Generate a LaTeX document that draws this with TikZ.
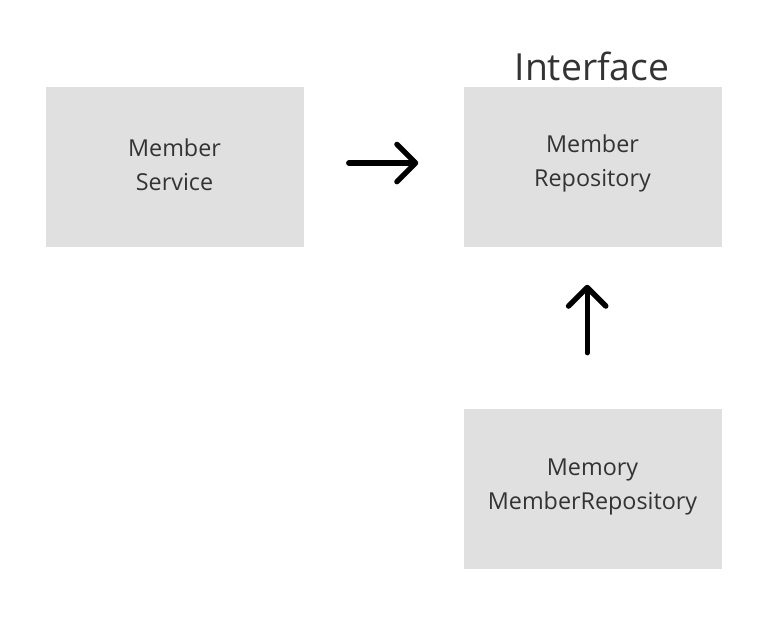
\documentclass[tikz,border=0pt]{standalone}
\usepackage{fontspec}
\setmainfont{Open Sans}
\usetikzlibrary{arrows.meta}
\definecolor{boxgray}{HTML}{E0E0E0}
\definecolor{txt}{HTML}{333333}
\begin{document}
\begin{tikzpicture}[x=0.75pt,y=-0.75pt,
  box/.style={fill=boxgray,draw=none,minimum width=193.5pt,minimum height=120pt,inner sep=0pt},
  boxtext/.style={text=txt,font=\fontsize{17.5}{25.5}\selectfont,align=center,inner sep=0pt},
  conn/.style={line width=4pt,line cap=round,-{Straight Barb[length=14pt,width=28pt,line cap=round,line join=round]}}]
\useasboundingbox (0,0) rectangle (784,625);
\node[box] (ms) at (174.5,166.5) {};
\node[box] (mr) at (592.5,166.5) {};
\node[box] (mmr) at (592.5,489) {};
\node[boxtext] (mst) at ([yshift=1.5pt]ms.center) {Member\\Service};
\node[boxtext] (mrt) at ([yshift=2.2pt]mr.center) {Member\\Repository};
\node[boxtext] (mmrt) at ([yshift=1.2pt]mmr.center) {Memory\\MemberRepository};
\node[text=txt,font=\fontsize{28}{30}\selectfont,anchor=base] (intf) at (592,80) {Interface};
\draw[conn,shorten <=33.75pt,shorten >=33.75pt] ([yshift=2.6pt]ms.east) -- ([yshift=2.6pt]mr.west);
\draw[conn,shorten <=42pt,shorten >=28.5pt] ([xshift=-4pt]mmr.north) -- ([xshift=-4pt]mr.south);
\end{tikzpicture}
\end{document}
